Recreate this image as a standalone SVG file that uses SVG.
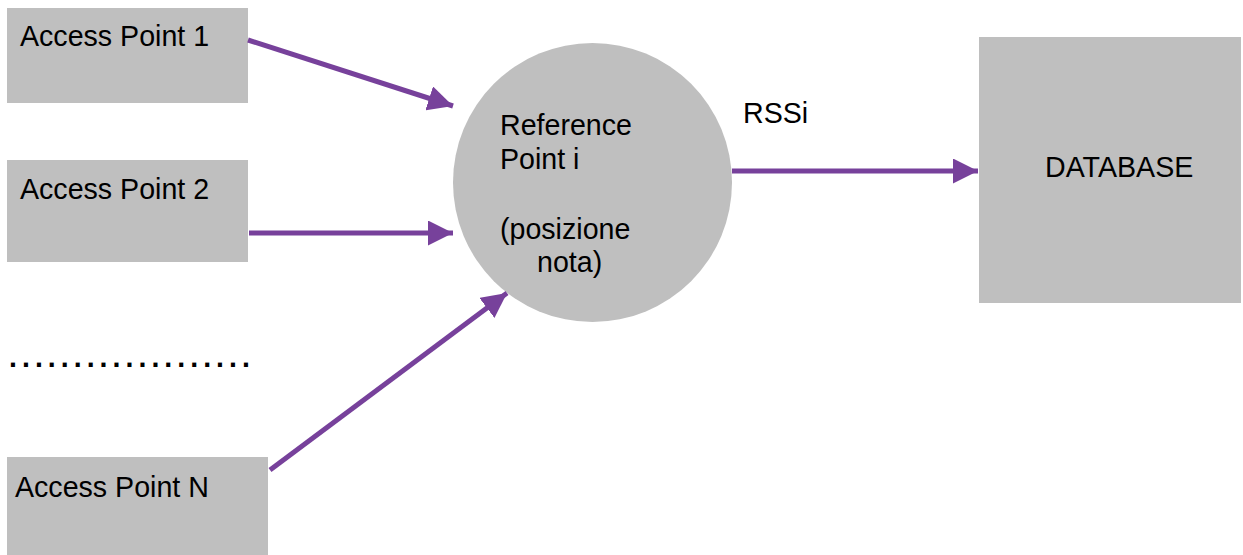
<svg xmlns="http://www.w3.org/2000/svg" width="1243" height="555" viewBox="0 0 1243 555">
  <style>
    .box { fill: #bfbfbf; }
    .lbl { font-family: "Liberation Sans", Arial, Helvetica, sans-serif; font-size: 28.6px; fill: #000; }
    .edge { stroke: #77419b; stroke-width: 5; fill: none; }
  </style>
  <defs>
    <marker id="head" viewBox="0 0 25 25" refX="25" refY="12.5" markerWidth="25" markerHeight="25" markerUnits="userSpaceOnUse" orient="auto">
      <path d="M0,0 L25,12.5 L0,25 Z" fill="#77419b"/>
    </marker>
  </defs>

  <rect width="1243" height="555" fill="#fff"/>

  <g id="ap1">
    <rect class="box" x="7" y="8" width="241" height="95"/>
    <text class="lbl" x="20" y="46">Access Point 1</text>
  </g>

  <g id="ap2">
    <rect class="box" x="7" y="160" width="241" height="102"/>
    <text class="lbl" x="20" y="199">Access Point 2</text>
  </g>

  <g id="ellipsis">
    <text class="lbl" x="9" y="367" letter-spacing="5" font-weight="bold">...................</text>
  </g>

  <g id="apN">
    <rect class="box" x="7" y="457" width="261" height="98"/>
    <text class="lbl" x="15" y="497">Access Point N</text>
  </g>

  <g id="refpoint">
    <circle class="box" cx="592.5" cy="182.5" r="139.5"/>
    <text class="lbl" x="500" y="135">Reference</text>
    <text class="lbl" x="500" y="169">Point i</text>
    <text class="lbl" x="500" y="239">(posizione</text>
    <text class="lbl" x="537" y="272">nota)</text>
  </g>

  <g id="database">
    <rect class="box" x="979" y="37" width="262" height="266"/>
    <text class="lbl" x="1045" y="177">DATABASE</text>
  </g>

  <g id="connectors">
    <line class="edge" x1="248" y1="40" x2="453" y2="106" marker-end="url(#head)"/>
    <line class="edge" x1="249" y1="233" x2="453" y2="233" marker-end="url(#head)"/>
    <line class="edge" x1="270" y1="470" x2="507" y2="293" marker-end="url(#head)"/>
    <line class="edge" x1="732" y1="171" x2="978" y2="171" marker-end="url(#head)"/>
    <text class="lbl" x="743" y="123">RSSi</text>
  </g>
</svg>
